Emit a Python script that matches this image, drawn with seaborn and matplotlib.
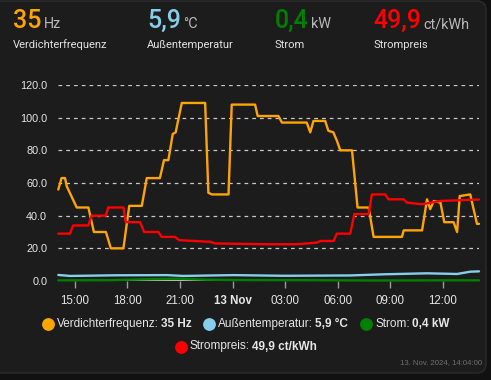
import matplotlib
matplotlib.use("Agg")
import pandas as pd
import matplotlib.pyplot as plt
from matplotlib.patches import FancyBboxPatch
from matplotlib.lines import Line2D
from matplotlib.transforms import IdentityTransform
import seaborn as sns

# ---- data ----
freq_times = ["11-12 14:03", "11-12 14:14", "11-12 14:26", "11-12 14:32", "11-12 15:06", "11-12 15:46",
              "11-12 16:05", "11-12 16:46", "11-12 17:03", "11-12 17:46", "11-12 18:06", "11-12 18:49",
              "11-12 19:06", "11-12 19:51", "11-12 20:05", "11-12 20:20", "11-12 20:35", "11-12 20:45",
              "11-12 20:53", "11-12 21:06", "11-12 22:26", "11-12 22:37", "11-12 22:49", "11-12 23:46",
              "11-12 23:57", "11-13 01:17", "11-13 01:26", "11-13 02:37", "11-13 02:49", "11-13 04:14",
              "11-13 04:26", "11-13 04:37", "11-13 05:17", "11-13 05:28", "11-13 05:45", "11-13 05:57",
              "11-13 06:09", "11-13 06:49", "11-13 07:08", "11-13 07:46", "11-13 08:03", "11-13 09:40",
              "11-13 09:46", "11-13 10:49", "11-13 11:06", "11-13 11:17", "11-13 11:29", "11-13 11:52",
              "11-13 12:05", "11-13 12:37", "11-13 12:49", "11-13 12:58", "11-13 13:34", "11-13 13:57",
              "11-13 14:04"]
freq_vals = [56, 63, 63, 58, 45, 45,
             30, 30, 20, 20, 46, 46,
             63, 63, 74, 74, 90, 91,
             98, 109, 109, 54, 53, 53,
             108, 108, 101, 101, 97, 97,
             91, 98, 98, 92, 91, 86,
             80, 80, 45, 45, 27, 27,
             31, 31, 50, 44, 49, 48,
             36, 36, 30, 52, 53, 35,
             35]

temp_times = ["11-12 14:03", "11-12 14:43", "11-12 17:23", "11-12 20:14", "11-12 21:11", "11-13 00:03",
              "11-13 02:54", "11-13 06:43", "11-13 08:37", "11-13 11:06", "11-13 12:49", "11-13 13:34",
              "11-13 14:04"]
temp_vals = [3.7, 3.1, 3.5, 3.6, 3.1, 3.6, 3.2, 3.4, 4.1, 4.7, 4.3, 5.7, 5.9]

power_times = ["11-12 14:03", "11-12 17:00", "11-12 19:30", "11-12 21:00", "11-12 22:30", "11-13 00:00",
               "11-13 04:00", "11-13 08:00", "11-13 12:00", "11-13 14:04"]
power_vals = [0.4, 0.5, 1.2, 1.4, 0.8, 0.6, 0.5, 0.3, 0.4, 0.4]

price_times = ["11-12 14:03", "11-12 14:43", "11-12 14:54", "11-12 15:46", "11-12 15:57", "11-12 16:46",
               "11-12 16:54", "11-12 17:46", "11-12 17:54", "11-12 18:43", "11-12 18:57", "11-12 19:46",
               "11-12 19:57", "11-12 20:43", "11-12 20:57", "11-12 22:43", "11-12 23:00", "11-13 01:57",
               "11-13 03:40", "11-13 04:49", "11-13 05:00", "11-13 05:46", "11-13 05:57", "11-13 06:43",
               "11-13 06:57", "11-13 07:46", "11-13 07:57", "11-13 08:43", "11-13 08:54", "11-13 09:46",
               "11-13 09:57", "11-13 10:49", "11-13 11:52", "11-13 14:04"]
price_vals = [29, 29, 34, 34, 40, 40,
              45, 45, 36, 36, 30, 30,
              27, 27, 25, 24, 23, 22.5,
              22.5, 23.5, 24.5, 24.5, 29, 29,
              41, 41, 53, 53, 50, 50,
              48, 47, 49, 49.9]

series_names = ["Verdichterfrequenz", "Außentemperatur", "Strom", "Strompreis"]
series_values = ["35", "5,9", "0,4", "49,9"]
series_units = ["Hz", "°C", "kW", "ct/kWh"]
series_colors = ["#ffa500", "#87ceeb", "#008000", "#ff0000"]

tick_times = ["11-12 15:00", "11-12 18:00", "11-12 21:00", "11-13 00:00",
              "11-13 03:00", "11-13 06:00", "11-13 09:00", "11-13 12:00"]
tick_labels = ["15:00", "18:00", "21:00", "13 Nov", "03:00", "06:00", "09:00", "12:00"]
y_ticks = [0, 20, 40, 60, 80, 100, 120]
x_range = ["11-12 14:03", "11-13 14:04"]
footer = "13. Nov. 2024, 14:04:00"


def to_dt(lst):
    return pd.to_datetime(["2024-" + s for s in lst])


sns.set_style("dark")
plt.rcParams["font.family"] = ["Liberation Sans", "DejaVu Sans"]

W, H = 491, 380
fig = plt.figure(figsize=(W / 100, H / 100), dpi=100)
fig.patch.set_facecolor("#111111")

card = FancyBboxPatch((-10, 7), 496, 372, boxstyle="round,pad=0,rounding_size=9",
                      fc="#1c1c1c", ec="#2c2c2c", lw=1, transform=IdentityTransform(), zorder=-10)
fig.add_artist(card)

ax = fig.add_axes([58.3 / W, 1 - 281 / H, (479 - 58.3) / W, (281 - 85) / H])
ax.set_facecolor("none")

series = [(freq_times, freq_vals), (temp_times, temp_vals),
          (power_times, power_vals), (price_times, price_vals)]
for (t, v), c in zip(series, series_colors):
    sns.lineplot(x=to_dt(t), y=v, ax=ax, color=c, lw=1.7, legend=False, clip_on=False, zorder=3)

ax.set_ylim(0, 120)
ax.set_xlim(to_dt(x_range)[0], to_dt(x_range)[1])
ax.set_yticks(y_ticks)
ax.set_yticklabels([f"{v:.1f}" for v in y_ticks])
ax.set_xticks(to_dt(tick_times))
ax.set_xticklabels(tick_labels)
ax.xaxis.get_ticklabels()[3].set_fontweight("bold")
ax.set_xlabel("")
ax.set_ylabel("")

ax.grid(False)
for y in y_ticks[1:]:
    ax.axhline(y, color="#c8c8c8", lw=0.9, ls=(0, (3, 3.2)), zorder=1)
ax.axhline(0, color="#e6e6e6", lw=1.1, zorder=2)
for s in ax.spines.values():
    s.set_visible(False)

ax.tick_params(axis="x", colors="#e6e6e6", labelsize=8.3, length=5, width=1, direction="out",
               pad=5, color="#9a9a9a", bottom=True)
ax.tick_params(axis="y", colors="#e6e6e6", labelsize=7.8, length=0, pad=8)

# ---- header ----
head_x = [12.5, 147, 274.5, 373]
fig.canvas.draw()
rend = fig.canvas.get_renderer()
for x, val, unit, name, c in zip(head_x, series_values, series_units, series_names, series_colors):
    tv = fig.text(x / W, 1 - 28.3 / H, val, color=c, fontsize=18, family="Roboto",
                  fontweight="medium", ha="left", va="baseline")
    wv = tv.get_window_extent(rend).width
    fig.text((x + wv + 2.5) / W, 1 - 28.3 / H, unit, color="#b8b8b8", fontsize=10.4,
             family="Roboto", ha="left", va="baseline")
    fig.text(x / W, 1 - 45 / H, name, color="#e1e1e1", fontsize=8, family="Roboto",
             ha="left", va="center")

# ---- legend rows (manual, bold values) ----
def legend_row(items, y_px):
    parts = []
    total = 0
    for c, name, val in items:
        t1 = fig.text(0, 1 - y_px / H, name + ":", color="#e6e6e6", fontsize=8.5,
                      ha="left", va="center")
        t2 = fig.text(0, 1 - y_px / H, val, color="#e6e6e6", fontsize=8.5,
                      fontweight="bold", ha="left", va="center")
        w1 = t1.get_window_extent(rend).width + 2
        w2 = t2.get_window_extent(rend).width
        parts.append((c, t1, t2, w1, w2))
        total += 15 + w1 + w2
    total += 12 * (len(items) - 1)
    x = W / 2 - total / 2
    for c, t1, t2, w1, w2 in parts:
        fig.add_artist(Line2D([(x + 6) / W], [1 - y_px / H], marker="o", ms=8.2,
                              color=c, mec=c, ls="none"))
        t1.set_x((x + 15) / W)
        t2.set_x((x + 15 + w1) / W)
        x += 15 + w1 + w2 + 12


items = [(c, n, f"{v} {u}") for c, n, v, u in
         zip(series_colors, series_names, series_values, series_units)]
legend_row(items[:3], 324)
legend_row(items[3:], 346.5)

fig.text(482 / W, 1 - 363 / H, footer, color="#6f6f6f", fontsize=5.6, ha="right", va="center")

fig.savefig("out.png", dpi=100, facecolor=fig.get_facecolor())
